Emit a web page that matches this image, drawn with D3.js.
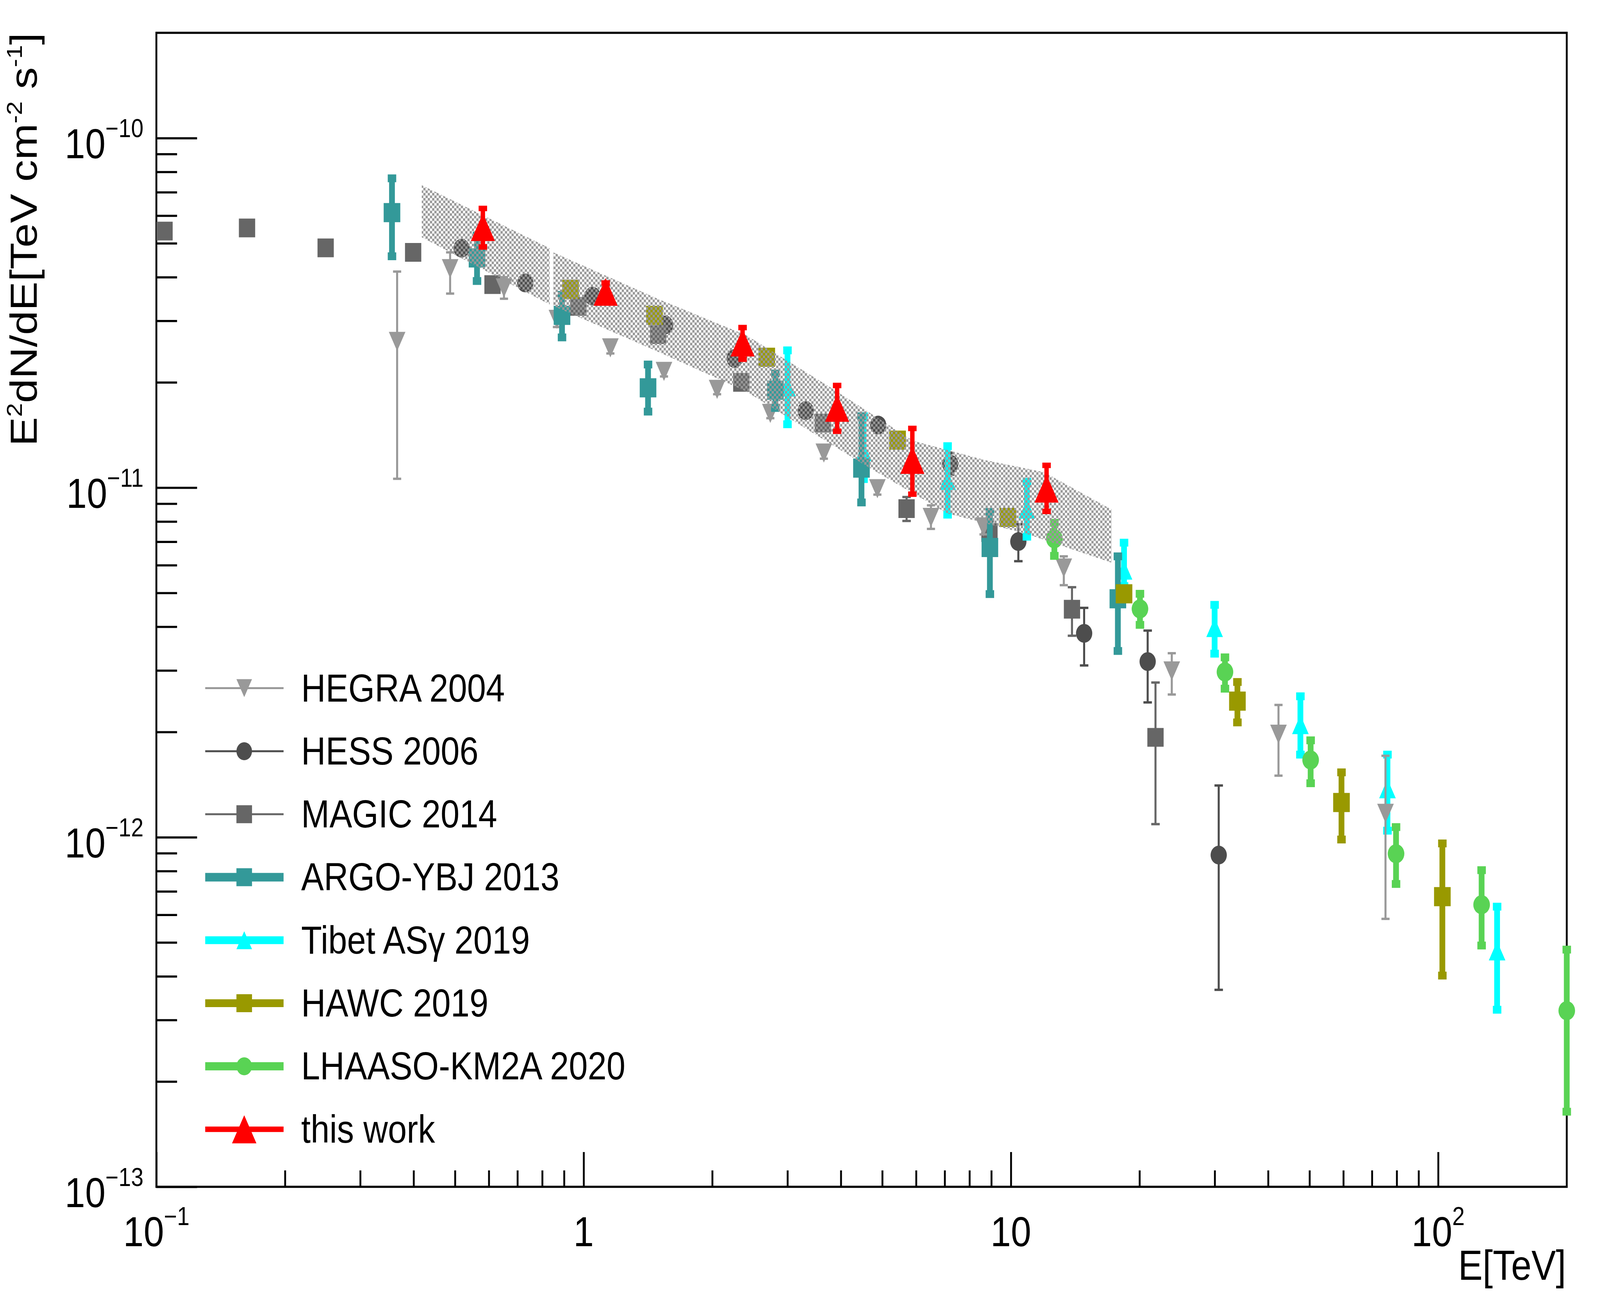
<!DOCTYPE html>
<html>
<head>
<meta charset="utf-8">
<script src="https://cdn.jsdelivr.net/npm/d3@7/dist/d3.min.js"></script>
<style>
html,body{margin:0;padding:0;background:#fff;width:100%;height:100%;overflow:hidden;}
svg{display:block;width:100vw;height:100vh;}
text{font-family:"Liberation Sans",Arial,Helvetica,sans-serif;fill:#000;}
</style>
</head>
<body>
<svg id="chart"></svg>
<script>
// ---------------- data (E in TeV, E^2 dN/dE in TeV cm^-2 s^-1) ----------------
const hegraE   = [0.366, 0.487, 0.651, 0.866, 1.155, 1.542, 2.053, 2.735, 3.65, 4.87, 6.50, 8.63, 13.3, 23.8, 42.3, 75.3];
const hegraF   = [2.62e-11, 4.23e-11, 3.73e-11, 3.03e-11, 2.51e-11, 2.15e-11, 1.91e-11, 1.63e-11, 1.256e-11, 9.93e-12, 8.22e-12, 7.72e-12, 5.89e-12, 2.99e-12, 1.97e-12, 1.17e-12];
const hegraUp  = [4.15e-11, 4.71e-11, 4.0e-11, 3.2e-11, 2.6e-11, 2.22e-11, 1.97e-11, 1.68e-11, 1.30e-11, 1.03e-11, 8.9e-12, 8.1e-12, 6.36e-12, 3.36e-12, 2.39e-12, 1.71e-12];
const hegraLow = [1.06e-11, 3.59e-11, 3.47e-11, 2.88e-11, 2.42e-11, 2.08e-11, 1.85e-11, 1.58e-11, 1.21e-11, 9.55e-12, 7.62e-12, 7.35e-12, 5.26e-12, 2.56e-12, 1.50e-12, 5.84e-13];

const hessE   = [0.518, 0.730, 1.049, 1.552, 2.257, 3.31, 4.89, 7.21, 10.41, 14.84, 20.9, 30.65];
const hessF   = [4.84e-11, 3.85e-11, 3.53e-11, 2.92e-11, 2.34e-11, 1.66e-11, 1.51e-11, 1.168e-11, 7.01e-12, 3.83e-12, 3.18e-12, 8.89e-13];
const hessUp  = [5.0e-11, 3.98e-11, 3.65e-11, 3.02e-11, 2.42e-11, 1.72e-11, 1.57e-11, 1.256e-11, 7.86e-12, 4.53e-12, 3.90e-12, 1.406e-12];
const hessLow = [4.68e-11, 3.72e-11, 3.41e-11, 2.82e-11, 2.26e-11, 1.60e-11, 1.45e-11, 1.09e-11, 6.16e-12, 3.10e-12, 2.43e-12, 3.66e-13];

const magicE   = [0.1045, 0.163, 0.249, 0.399, 0.612, 0.972, 1.494, 2.339, 3.63, 5.70, 8.91, 13.9, 21.8];
const magicF   = [5.42e-11, 5.53e-11, 4.85e-11, 4.71e-11, 3.81e-11, 3.30e-11, 2.74e-11, 2.0e-11, 1.53e-11, 8.71e-12, 7.44e-12, 4.49e-12, 1.93e-12];
const magicUp  = [5.6e-11, 5.7e-11, 5.0e-11, 4.85e-11, 3.92e-11, 3.4e-11, 2.82e-11, 2.06e-11, 1.58e-11, 9.4e-12, 8.0e-12, 5.19e-12, 2.77e-12];
const magicLow = [5.25e-11, 5.36e-11, 4.7e-11, 4.57e-11, 3.7e-11, 3.2e-11, 2.66e-11, 1.94e-11, 1.48e-11, 8.03e-12, 6.9e-12, 3.77e-12, 1.09e-12];

const argoE   = [0.356, 0.563, 0.890, 1.415, 2.81, 4.47, 8.93, 17.8];
const argoF   = [6.12e-11, 4.54e-11, 3.11e-11, 1.93e-11, 1.90e-11, 1.137e-11, 6.74e-12, 4.81e-12];
const argoUp  = [7.67e-11, 5.26e-11, 3.56e-11, 2.25e-11, 2.12e-11, 1.60e-11, 8.52e-12, 6.36e-12];
const argoLow = [4.59e-11, 3.90e-11, 2.69e-11, 1.65e-11, 1.69e-11, 9.07e-12, 4.96e-12, 3.41e-12];

const tibetE   = [3.0, 4.52, 7.11, 10.9, 18.4, 29.98, 47.6, 76.1, 137.4];
const tibetF   = [1.94e-11, 1.267e-11, 1.049e-11, 8.68e-12, 5.81e-12, 3.98e-12, 2.10e-12, 1.376e-12, 4.73e-13];
const tibetUp  = [2.47e-11, 1.60e-11, 1.314e-11, 1.039e-11, 6.96e-12, 4.62e-12, 2.53e-12, 1.723e-12, 6.33e-13];
const tibetLow = [1.518e-11, 1.058e-11, 8.37e-12, 7.24e-12, 5.23e-12, 3.35e-12, 1.723e-12, 1.044e-12, 3.21e-13];

const hawcE   = [0.932, 1.465, 2.683, 5.43, 9.84, 18.4, 33.9, 59.4, 102.3];
const hawcF   = [3.69e-11, 3.11e-11, 2.36e-11, 1.367e-11, 8.22e-12, 4.97e-12, 2.45e-12, 1.257e-12, 6.76e-13];
const hawcUp  = [3.8e-11, 3.2e-11, 2.43e-11, 1.41e-11, 8.5e-12, 5.15e-12, 2.78e-12, 1.533e-12, 9.6e-13];
const hawcLow = [3.58e-11, 3.02e-11, 2.29e-11, 1.325e-11, 7.95e-12, 4.8e-12, 2.13e-12, 9.85e-13, 4.02e-13];

const lhaasoE   = [12.64, 20.05, 31.7, 50.3, 79.7, 126.4, 200];
const lhaasoF   = [7.14e-12, 4.50e-12, 2.97e-12, 1.663e-12, 8.97e-13, 6.41e-13, 3.19e-13];
const lhaasoUp  = [7.93e-12, 4.97e-12, 3.27e-12, 1.893e-12, 1.069e-12, 8.05e-13, 4.77e-13];
const lhaasoLow = [6.38e-12, 4.05e-12, 2.66e-12, 1.427e-12, 7.35e-13, 4.9e-13, 1.64e-13];

const workE   = [0.581, 1.126, 2.355, 3.92, 5.88, 12.12];
const workF   = [5.56e-11, 3.63e-11, 2.60e-11, 1.69e-11, 1.20e-11, 9.93e-12];
const workUp  = [6.29e-11, 3.85e-11, 2.87e-11, 1.96e-11, 1.477e-11, 1.158e-11];
const workLow = [4.88e-11, 3.42e-11, 2.33e-11, 1.45e-11, 9.58e-12, 8.55e-12];

// butterfly band (two pieces)
const band1E     = [0.418, 0.833];
const band1Upper = [7.33e-11, 4.84e-11];
const band1Lower = [5.20e-11, 3.34e-11];
const band2UpperE = [0.849, 1.49, 2.4, 3.77, 5.9, 8.68, 11.96, 16.7, 17.2];
const band2Upper  = [4.71e-11, 3.47e-11, 2.73e-11, 1.94e-11, 1.362e-11, 1.20e-11, 1.107e-11, 8.83e-12, 8.68e-12];
const band2LowerE = [0.849, 1.49, 2.4, 4.51, 7.1, 10.9, 17.2];
const band2Lower  = [3.31e-11, 2.45e-11, 1.885e-11, 1.168e-11, 8.44e-12, 7.37e-12, 6.1e-12];

// axis ticks and labels
const xMajorTicks = [0.1, 1, 10, 100];
const xTickBase   = ["10", "1", "10", "10"];
const xTickExp    = ["\u22121", "", "", "2"];
const xMinorTicks = [0.2,0.3,0.4,0.5,0.6,0.7,0.8,0.9, 2,3,4,5,6,7,8,9, 20,30,40,50,60,70,80,90];
const yMajorTicks = [1e-13, 1e-12, 1e-11, 1e-10];
const yTickExp    = ["\u221213", "\u221212", "\u221211", "\u221210"];
const yMinorTicks = [2e-13,3e-13,4e-13,5e-13,6e-13,7e-13,8e-13,9e-13,
                     2e-12,3e-12,4e-12,5e-12,6e-12,7e-12,8e-12,9e-12,
                     2e-11,3e-11,4e-11,5e-11,6e-11,7e-11,8e-11,9e-11];
const legendLabels = ["HEGRA 2004", "HESS 2006", "MAGIC 2014", "ARGO-YBJ 2013",
                      "Tibet AS\u03b3 2019", "HAWC 2019", "LHAASO-KM2A 2020", "this work"];

// ---------------- layout / style ----------------
const W = 4717, H = 3338;
const L = 461, R = 4619, T = 84, B = 3038;
const svg = d3.select("#chart").attr("viewBox", `0 0 ${W} ${H}`).attr("preserveAspectRatio", "none");
svg.append("rect").attr("width", W).attr("height", H).attr("fill", "#fff");

const x = d3.scaleLog().domain([0.1, 200]).range([L, R]);
const y = d3.scaleLog().domain([1e-13, 2e-10]).range([B, T]);

const defs = svg.append("defs");
const pat = defs.append("pattern").attr("id", "chk").attr("patternUnits", "userSpaceOnUse")
  .attr("width", 13).attr("height", 13);
pat.append("rect").attr("x", 0).attr("y", 0).attr("width", 6.5).attr("height", 6.5).attr("fill", "#999999");
pat.append("rect").attr("x", 6.5).attr("y", 6.5).attr("width", 6.5).attr("height", 6.5).attr("fill", "#999999");

function shape(type, s) {
  const h = s / 2;
  if (type === "tup") return `M${-h},${h}L${h},${h}L0,${-h}Z`;
  if (type === "tdown") return `M${-h},${-h}L${h},${-h}L0,${h}Z`;
  if (type === "square") return `M${-h},${-h}H${h}V${h}H${-h}Z`;
  return `M${-h},0A${h},${h} 0 1,0 ${h},0A${h},${h} 0 1,0 ${-h},0Z`;
}

const series = {
  hegra:  {E: hegraE, F: hegraF, up: hegraUp, low: hegraLow, color: "#999999", shape: "tdown", size: 49, lw: 6, capW: 24, capH: 6, legLW: 5},
  hess:   {E: hessE, F: hessF, up: hessUp, low: hessLow, color: "#4d4d4d", shape: "circle", size: 48, lw: 6, capW: 25, capH: 6, legLW: 5},
  magic:  {E: magicE, F: magicF, up: magicUp, low: magicLow, color: "#666666", shape: "square", size: 48, lw: 6, capW: 25, capH: 6, legLW: 5},
  argo:   {E: argoE, F: argoF, up: argoUp, low: argoLow, color: "#339999", shape: "square", size: 49, lw: 17, capW: 25, capH: 20, legLW: 22},
  tibet:  {E: tibetE, F: tibetF, up: tibetUp, low: tibetLow, color: "#00ffff", shape: "tup", size: 49, lw: 17, capW: 25, capH: 20, legLW: 20},
  hawc:   {E: hawcE, F: hawcF, up: hawcUp, low: hawcLow, color: "#999900", shape: "square", size: 49, lw: 17, capW: 25, capH: 20, legLW: 20},
  lhaaso: {E: lhaasoE, F: lhaasoF, up: lhaasoUp, low: lhaasoLow, color: "#59d354", shape: "circle", size: 49, lw: 17, capW: 25, capH: 20, legLW: 21},
  work:   {E: workE, F: workF, up: workUp, low: workLow, color: "#ff0000", shape: "tup", size: 71, lw: 13, capW: 25, capH: 14, legLW: 14}
};
const legendOrder = ["hegra", "hess", "magic", "argo", "tibet", "hawc", "lhaaso", "work"];
const drawOrder = ["hess", "magic", "tibet", "hegra", "argo", "hawc", "lhaaso"];

// ---------------- frame & axes ----------------
svg.append("rect").attr("x", L).attr("y", T).attr("width", R - L).attr("height", B - T)
  .attr("fill", "none").attr("stroke", "#000").attr("stroke-width", 5.5);

function styleAxis(g) {
  g.select(".domain").remove();
  g.selectAll(".tick line").attr("stroke", "#000").attr("stroke-width", 5.5);
  g.selectAll(".tick text").remove();
}
svg.append("g").attr("transform", `translate(0,${B})`)
  .call(d3.axisBottom(x).tickValues(xMajorTicks).tickSize(-89).tickSizeOuter(0).tickFormat(() => "")).call(styleAxis);
svg.append("g").attr("transform", `translate(0,${B})`)
  .call(d3.axisBottom(x).tickValues(xMinorTicks).tickSize(-42).tickSizeOuter(0).tickFormat(() => "")).call(styleAxis);
svg.append("g").attr("transform", `translate(${L},0)`)
  .call(d3.axisLeft(y).tickValues(yMajorTicks).tickSize(-120).tickSizeOuter(0).tickFormat(() => "")).call(styleAxis);
svg.append("g").attr("transform", `translate(${L},0)`)
  .call(d3.axisLeft(y).tickValues(yMinorTicks).tickSize(-61).tickSizeOuter(0).tickFormat(() => "")).call(styleAxis);

const FS = 108, SFS = 66, RAISE = 54;
// x tick labels
xMajorTicks.forEach((v, i) => {
  const t = svg.append("text").attr("x", x(v)).attr("y", 3190).attr("text-anchor", "middle")
    .attr("font-size", FS);
  t.append("tspan").text(xTickBase[i]);
  if (xTickExp[i]) t.append("tspan").attr("font-size", SFS).attr("dy", -RAISE).text(xTickExp[i]);
});
// y tick labels
yMajorTicks.forEach((v, i) => {
  const t = svg.append("text").attr("x", 423).attr("y", y(v) + 52).attr("text-anchor", "end")
    .attr("font-size", FS);
  t.append("tspan").text("10");
  t.append("tspan").attr("font-size", SFS).attr("dy", -RAISE).text(yTickExp[i]);
});
// axis titles
svg.append("text").attr("x", 4617).attr("y", 3276).attr("text-anchor", "end")
  .attr("font-size", FS).text("E[TeV]");
const yt = svg.append("text").attr("transform", "translate(108,84) rotate(-90)")
  .attr("text-anchor", "end").attr("font-size", 112);
const titleParts = [["E", 0], ["2", 1], ["dN/dE[TeV cm", 0], ["-2", 1], [" s", 0], ["-1", 1], ["]", 0]];
let lifted = false;
titleParts.forEach(([txt, sup]) => {
  const ts = yt.append("tspan").text(txt);
  if (sup) { ts.attr("font-size", 64).attr("dy", -44); lifted = true; }
  else if (lifted) { ts.attr("dy", 44); lifted = false; }
});

// ---------------- data drawing ----------------
function drawSeries(key, parent) {
  const s = series[key];
  const g = parent.append("g");
  const pts = s.E.map((e, i) => ({e, f: s.F[i], u: s.up[i], l: s.low[i]}));
  g.selectAll("line.err").data(pts).join("line").attr("class", "err")
    .attr("x1", d => x(d.e)).attr("x2", d => x(d.e))
    .attr("y1", d => y(d.u)).attr("y2", d => y(d.l))
    .attr("stroke", s.color).attr("stroke-width", s.lw);
  g.selectAll("rect.capu").data(pts).join("rect").attr("class", "capu")
    .attr("x", d => x(d.e) - s.capW / 2).attr("y", d => y(d.u) - s.capH / 2)
    .attr("width", s.capW).attr("height", s.capH).attr("fill", s.color);
  g.selectAll("rect.capl").data(pts).join("rect").attr("class", "capl")
    .attr("x", d => x(d.e) - s.capW / 2).attr("y", d => y(d.l) - s.capH / 2)
    .attr("width", s.capW).attr("height", s.capH).attr("fill", s.color);
  g.selectAll("path.mk").data(pts).join("path").attr("class", "mk")
    .attr("transform", d => `translate(${x(d.e)},${y(d.f)})`)
    .attr("d", shape(s.shape, s.size)).attr("fill", s.color);
}
const dataG = svg.append("g");
drawOrder.forEach(k => drawSeries(k, dataG));

// band (checkered, drawn over the other measurements)
const bandLine = d3.line().x(d => x(d[0])).y(d => y(d[1]));
const band1Pts = band1E.map((e, i) => [e, band1Upper[i]])
  .concat(band1E.map((e, i) => [e, band1Lower[i]]).reverse());
const band2Pts = band2UpperE.map((e, i) => [e, band2Upper[i]])
  .concat(band2LowerE.map((e, i) => [e, band2Lower[i]]).reverse());
[band1Pts, band2Pts].forEach(p => {
  svg.append("path").attr("d", bandLine(p) + "Z").attr("fill", "url(#chk)").attr("stroke", "none");
});

drawSeries("work", svg);

// ---------------- legend ----------------
const legY0 = 1761.6, legDY = 161.3;
legendOrder.forEach((k, i) => {
  const s = series[k];
  const cy = legY0 + i * legDY;
  svg.append("line").attr("x1", 605).attr("x2", 836).attr("y1", cy).attr("y2", cy)
    .attr("stroke", s.color).attr("stroke-width", s.legLW);
  svg.append("path").attr("transform", `translate(720,${cy})`)
    .attr("d", shape(s.shape, k === "work" ? 72 : 46)).attr("fill", s.color);
  svg.append("text").attr("x", 888).attr("y", cy + 34).attr("font-size", 100).text(legendLabels[i]);
});
</script>
</body>
</html>
